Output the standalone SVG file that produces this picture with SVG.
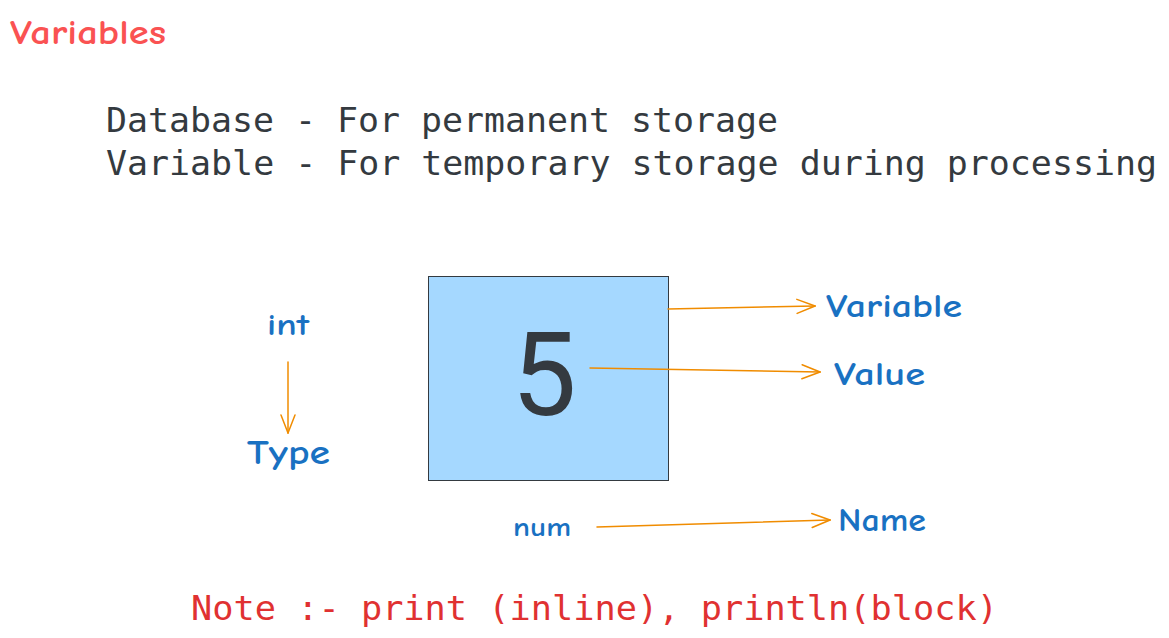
<svg xmlns="http://www.w3.org/2000/svg" width="1169" height="638" viewBox="0 0 1169 638">
<style>
.mono{font-family:"DejaVu Sans Mono","Liberation Mono",monospace;font-size:34px}
.hand{font-family:"Comic Neue","Open Sans","Liberation Sans",sans-serif;fill:#1971c2;font-weight:700}
.arr{stroke:#f08c00;stroke-width:1.5;fill:none;stroke-linecap:round}
</style>
<defs>
<marker id="ah" viewBox="0 0 20 20" refX="19" refY="10" markerWidth="20" markerHeight="20" markerUnits="userSpaceOnUse" orient="auto">
<path d="M1,3 L19,10 L1,17" fill="none" stroke="#f08c00" stroke-width="1.5" stroke-linecap="round"/>
</marker>
</defs>
<rect width="1169" height="638" fill="#ffffff"/>
<g id="title"><text x="10" y="44" font-family="'Comic Neue','Open Sans','Liberation Sans',sans-serif" font-weight="700" font-size="34" fill="#fa5252" textLength="156" lengthAdjust="spacingAndGlyphs">Variables</text></g>
<g id="desc">
<text class="mono" x="106" y="132" fill="#343a40" textLength="672" lengthAdjust="spacingAndGlyphs">Database - For permanent storage</text>
<text class="mono" x="106" y="175" fill="#343a40" textLength="1051" lengthAdjust="spacingAndGlyphs">Variable - For temporary storage during processing</text>
</g>
<g id="box">
<rect x="428.5" y="276.5" width="240" height="204" fill="#a5d8ff" stroke="#343a40" stroke-width="1"/>
<text x="544" y="415" text-anchor="middle" font-family="Roboto,'Liberation Sans',sans-serif" font-size="116" fill="#343a40">5</text>
</g>
<g id="label-variable"><text class="hand" x="826" y="317" font-size="33" textLength="136" lengthAdjust="spacingAndGlyphs">Variable</text></g>
<g id="label-value"><text class="hand" x="834" y="385" font-size="33" textLength="91" lengthAdjust="spacingAndGlyphs">Value</text></g>
<g id="label-int"><text class="hand" x="267" y="335" font-size="30" textLength="42" lengthAdjust="spacingAndGlyphs">int</text></g>
<g id="label-type"><text class="hand" x="247" y="464" font-size="34" textLength="83" lengthAdjust="spacingAndGlyphs">Type</text></g>
<g id="label-num"><text class="hand" x="513" y="536" font-size="26" textLength="58" lengthAdjust="spacingAndGlyphs">num</text></g>
<g id="label-name"><text class="hand" x="838" y="531" font-size="33" textLength="88" lengthAdjust="spacingAndGlyphs">Name</text></g>
<g id="note"><text class="mono" x="191" y="620" fill="#e03131" textLength="807" lengthAdjust="spacingAndGlyphs">Note :- print (inline), println(block)</text></g>
<g id="connectors">
<path class="arr" d="M668,309 L815,306" marker-end="url(#ah)"/>
<path class="arr" d="M590,368 L820,372" marker-end="url(#ah)"/>
<path class="arr" d="M288,362 L288,433" marker-end="url(#ah)"/>
<path class="arr" d="M597,527 L830,520" marker-end="url(#ah)"/>
</g>
</svg>
